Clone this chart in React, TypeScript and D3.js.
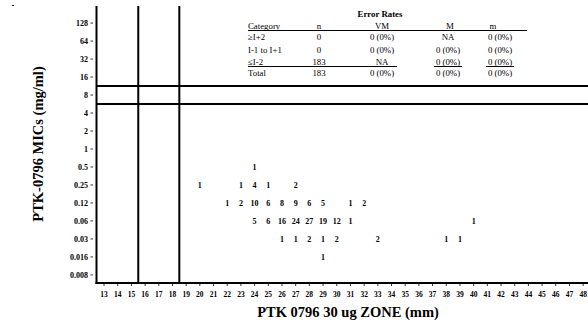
import React, { useEffect, useRef } from "react";
import * as d3 from "d3";

// MIC levels, top to bottom
const micLabels = ["128", "64", "32", "16", "8", "4", "2", "1", "0.5", "0.25", "0.12", "0.06", "0.03", "0.016", "0.008"];
const zoneTicks = [13, 14, 15, 16, 17, 18, 19, 20, 21, 22, 23, 24, 25, 26, 27, 28, 29, 30, 31, 32, 33, 34, 35, 36, 37, 38, 39, 40, 41, 42, 43, 44, 45, 46, 47, 48];

// scattergram counts (zone, mic, n)
const countZone = [24, 20, 23, 24, 25, 27, 22, 23, 24, 25, 26, 27, 28, 29, 31, 32, 24, 25, 26, 27, 28, 29, 30, 31, 40, 26, 27, 28, 29, 30, 33, 38, 39, 29];
const countMic = ["0.5", "0.25", "0.25", "0.25", "0.25", "0.25", "0.12", "0.12", "0.12", "0.12", "0.12", "0.12", "0.12", "0.12", "0.12", "0.12", "0.06", "0.06", "0.06", "0.06", "0.06", "0.06", "0.06", "0.06", "0.06", "0.03", "0.03", "0.03", "0.03", "0.03", "0.03", "0.03", "0.03", "0.016"];
const countValue = [1, 1, 1, 4, 1, 2, 1, 2, 10, 6, 8, 9, 6, 5, 1, 2, 5, 6, 16, 24, 27, 19, 12, 1, 1, 1, 1, 2, 1, 2, 2, 1, 1, 1];

// breakpoints
const zoneBreaks = [15.5, 18.5];
const micBreaks = [3.5, 4.5]; // between 16/8 and 8/4

// error rate table
const tableCategory = ["\u2265I+2", "I-1 to I+1", "\u2264I-2", "Total"];
const tableN = ["0", "0", "183", "183"];
const tableVM = ["0 (0%)", "0 (0%)", "NA", "0 (0%)"];
const tableM = ["NA", "0 (0%)", "0 (0%)", "0 (0%)"];
const tableMinor = ["0 (0%)", "0 (0%)", "0 (0%)", "0 (0%)"];

const W = 588;
const H = 323;
const serif = "'Liberation Serif', 'Times New Roman', serif";

const App = () => {
  const ref = useRef<SVGSVGElement>(null);

  useEffect(() => {
    const svg = d3.select(ref.current);
    svg.selectAll("*").remove();
    svg.attr("width", W).attr("height", H).style("font-family", serif);

    const left = 96.5;
    const top = 6;
    const bottom = 283;

    const x = d3.scaleLinear().domain([12.45, 48.5]).range([left, 590]);
    const y = d3.scaleLinear().domain([-0.95, 14.45]).range([top, bottom]);
    const micIndex = (m: string) => micLabels.indexOf(m);

    // y axis ticks + labels
    const yt = svg.append("g");
    micLabels.forEach((m, i) => {
      yt.append("text")
        .attr("x", 88)
        .attr("y", y(i))
        .attr("dy", "0.35em")
        .attr("text-anchor", "end")
        .attr("font-size", 8)
        .attr("font-weight", "bold")
        .text(m);
      yt.append("line")
        .attr("x1", 90.5).attr("x2", 93)
        .attr("y1", y(i)).attr("y2", y(i))
        .attr("stroke", "#000").attr("stroke-width", 0.8);
    });

    // x axis ticks + labels
    const xt = svg.append("g");
    zoneTicks.forEach((z) => {
      xt.append("line")
        .attr("x1", x(z)).attr("x2", x(z))
        .attr("y1", bottom).attr("y2", bottom + 3)
        .attr("stroke", "#000").attr("stroke-width", 0.8);
      xt.append("text")
        .attr("x", x(z))
        .attr("y", 297)
        .attr("text-anchor", "middle")
        .attr("font-size", 7.5)
        .attr("font-weight", "bold")
        .text(z);
    });

    // frame (left + bottom)
    svg.append("line")
      .attr("x1", left).attr("x2", left).attr("y1", top).attr("y2", bottom + 1)
      .attr("stroke", "#000").attr("stroke-width", 2);
    svg.append("line")
      .attr("x1", left - 1).attr("x2", W).attr("y1", bottom).attr("y2", bottom)
      .attr("stroke", "#000").attr("stroke-width", 2);

    // breakpoint lines
    zoneBreaks.forEach((b) => {
      svg.append("line")
        .attr("x1", x(b)).attr("x2", x(b)).attr("y1", top).attr("y2", bottom)
        .attr("stroke", "#000").attr("stroke-width", 2);
    });
    micBreaks.forEach((b) => {
      svg.append("line")
        .attr("x1", left).attr("x2", W).attr("y1", y(b)).attr("y2", y(b))
        .attr("stroke", "#000").attr("stroke-width", 2);
    });

    // counts
    svg.append("g")
      .selectAll("text")
      .data(countValue)
      .enter()
      .append("text")
      .attr("x", (d, i) => x(countZone[i]))
      .attr("y", (d, i) => y(micIndex(countMic[i])))
      .attr("dy", "0.35em")
      .attr("text-anchor", "middle")
      .attr("font-size", 8)
      .attr("font-weight", "bold")
      .text((d) => d);

    // axis titles
    svg.append("text")
      .attr("x", 348)
      .attr("y", 317)
      .attr("text-anchor", "middle")
      .attr("font-size", 14.5)
      .attr("font-weight", "bold")
      .text("PTK 0796 30 ug ZONE (mm)");
    svg.append("text")
      .attr("transform", "translate(43,144) rotate(-90)")
      .attr("text-anchor", "middle")
      .attr("font-size", 14.5)
      .attr("font-weight", "bold")
      .text("PTK-0796 MICs (mg/ml)");

    // stray mark top-left
    svg.append("rect").attr("x", 12).attr("y", 5).attr("width", 2).attr("height", 1).attr("fill", "#000");

    // error rate table
    const t = svg.append("g").attr("font-size", 8.8);
    t.append("text")
      .attr("x", 380).attr("y", 17)
      .attr("text-anchor", "middle")
      .attr("font-weight", "bold")
      .text("Error Rates");
    const cols = [
      { x: 248, anchor: "start", head: "Category", vals: tableCategory },
      { x: 319, anchor: "middle", head: "n", vals: tableN },
      { x: 382, anchor: "middle", head: "VM", vals: tableVM },
      { x: 448, anchor: "middle", head: "M", vals: tableM },
      { x: 500, anchor: "middle", head: "m", vals: tableMinor },
    ];
    const rowY = [40, 52.5, 64.5, 76];
    cols.forEach((c, ci) => {
      t.append("text")
        .attr("x", ci === 4 ? 493 : ci === 3 ? 450 : c.x)
        .attr("y", 28.5)
        .attr("text-anchor", c.anchor)
        .text(c.head);
      c.vals.forEach((v, ri) => {
        t.append("text")
          .attr("x", c.x)
          .attr("y", rowY[ri])
          .attr("text-anchor", c.anchor)
          .text(v);
      });
    });
    // header rule
    t.append("line")
      .attr("x1", 248).attr("x2", 527).attr("y1", 30.5).attr("y2", 30.5)
      .attr("stroke", "#000").attr("stroke-width", 1);
    // underline of the <=I-2 row
    [[248, 397], [434, 462], [486, 514]].forEach(([a, b]) => {
      t.append("line")
        .attr("x1", a).attr("x2", b).attr("y1", 66.5).attr("y2", 66.5)
        .attr("stroke", "#000").attr("stroke-width", 1);
    });
  }, []);

  return <svg ref={ref} style={{ position: "absolute", left: 0, top: 0 }}></svg>;
};

export default App;
